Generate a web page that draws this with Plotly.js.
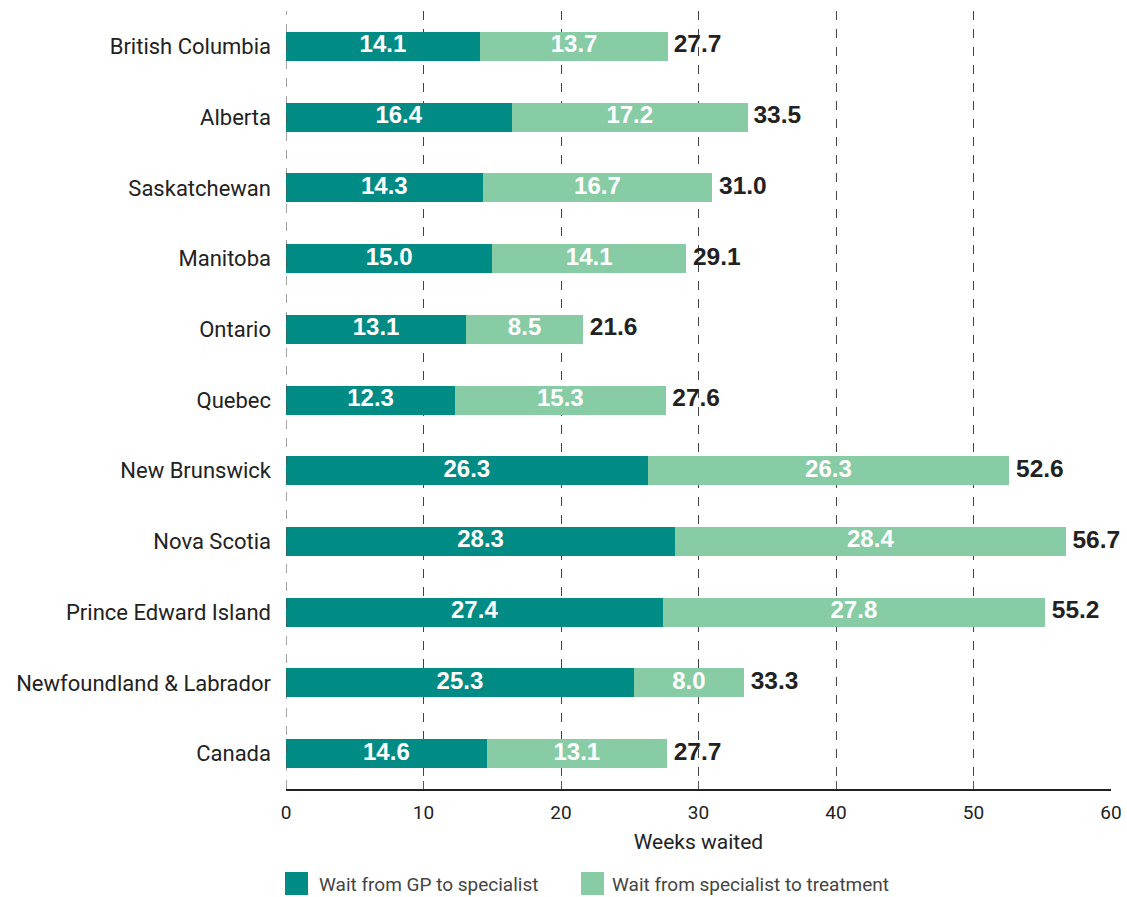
<!DOCTYPE html>
<html><head><meta charset="utf-8">
<script src="https://cdn.plot.ly/plotly-3.0.1.min.js"></script>
<style>body{margin:0;background:#fff}#chart{width:1127px;height:897px}</style>
</head><body><div id="chart"></div>
<script>
const categories = ["British Columbia","Alberta","Saskatchewan","Manitoba","Ontario","Quebec","New Brunswick","Nova Scotia","Prince Edward Island","Newfoundland & Labrador","Canada"];
const gpToSpecialist = [14.1,16.4,14.3,15.0,13.1,12.3,26.3,28.3,27.4,25.3,14.6];
const specialistToTreatment = [13.7,17.2,16.7,14.1,8.5,15.3,26.3,28.4,27.8,8.0,13.1];
const totals = [27.7,33.5,31.0,29.1,21.6,27.6,52.6,56.7,55.2,33.3,27.7];
const tickVals = [0,10,20,30,40,50,60];
const seriesNames = ["Wait from GP to specialist","Wait from specialist to treatment"];
const seriesColors = ["#008B85","#88CCA6"];

const W = 1127, H = 897, M = {l:286, r:16, t:11, b:108};
const pw = W - M.l - M.r, ph = H - M.t - M.b;
const px = x => (x - M.l) / pw;          // pixel -> paper x
const py = y => (H - M.b - y) / ph;      // pixel -> paper y

const barFont = {family:"Liberation Sans, Arial, sans-serif", size:24, color:"#ffffff", weight:"bold"};
const mid1 = gpToSpecialist.map(v => v/2);
const mid2 = gpToSpecialist.map((v,i) => v + specialistToTreatment[i]/2);
const traces = [
 {type:"bar", orientation:"h", name:seriesNames[0], y:categories, x:gpToSpecialist,
  marker:{color:seriesColors[0]}, width:0.41, textposition:"none", showlegend:false},
 {type:"bar", orientation:"h", name:seriesNames[1], y:categories, x:specialistToTreatment,
  marker:{color:seriesColors[1]}, width:0.41, textposition:"none", showlegend:false},
 {type:"scatter", mode:"text", y:categories, x:mid1, text:gpToSpecialist.map(v=>v.toFixed(1)),
  textposition:"middle center", textfont:barFont, showlegend:false, hoverinfo:"skip"},
 {type:"scatter", mode:"text", y:categories, x:mid2, text:specialistToTreatment.map(v=>v.toFixed(1)),
  textposition:"middle center", textfont:barFont, showlegend:false, hoverinfo:"skip"},
 {type:"scatter", mode:"text", y:categories, x:totals, text:totals.map(v=>" "+v.toFixed(1)),
  textposition:"middle right", textfont:{family:"Liberation Sans, Arial, sans-serif", size:24.5, color:"#222222", weight:"bold"},
  showlegend:false, hoverinfo:"skip", cliponaxis:false}
];

const legendShapes = [], legendAnn = [];
const swX = [285, 581], txX = [317, 610];
for (let i = 0; i < 2; i++) {
  legendShapes.push({type:"rect", xref:"paper", yref:"paper", x0:px(swX[i]), x1:px(swX[i]+23), y0:py(895), y1:py(872),
    fillcolor:seriesColors[i], line:{width:0}});
  legendAnn.push({xref:"paper", yref:"paper", x:px(txX[i]), y:py(884), xanchor:"left", yanchor:"middle", showarrow:false,
    text:seriesNames[i], font:{family:"Roboto, Liberation Sans, sans-serif", size:19, color:"#444"}});
}

const layout = {
 width:W, height:H, barmode:"stack",
 margin:M, paper_bgcolor:"#fff", plot_bgcolor:"#fff", showlegend:false,
 xaxis:{range:[0,60], tickvals:tickVals, ticktext:tickVals.map(String), showgrid:true, gridcolor:"#444", griddash:"dash", gridwidth:1,
  zeroline:false, showline:true, linecolor:"#222", linewidth:2, ticks:"inside", ticklen:8, tickcolor:"#555",
  ticklabelstandoff:5,
  tickfont:{family:"Roboto, Liberation Sans, sans-serif", size:19, color:"#222"},
  title:{text:"Weeks waited", font:{family:"Roboto, Liberation Sans, sans-serif", size:21, color:"#222"}, standoff:12}},
 yaxis:{range:[categories.length-0.5,-0.5], showgrid:false, zeroline:false, showline:false, ticks:"", ticklabelstandoff:14,
  tickfont:{family:"Roboto, Liberation Sans, sans-serif", size:22, color:"#222"}},
 shapes:[{type:"line", xref:"x", yref:"paper", x0:0, x1:0, y0:0, y1:1, line:{color:"#444", width:1, dash:"dash"}}].concat(legendShapes),
 annotations:legendAnn
};
Plotly.newPlot("chart", traces, layout, {displayModeBar:false, staticPlot:true});
</script></body></html>
